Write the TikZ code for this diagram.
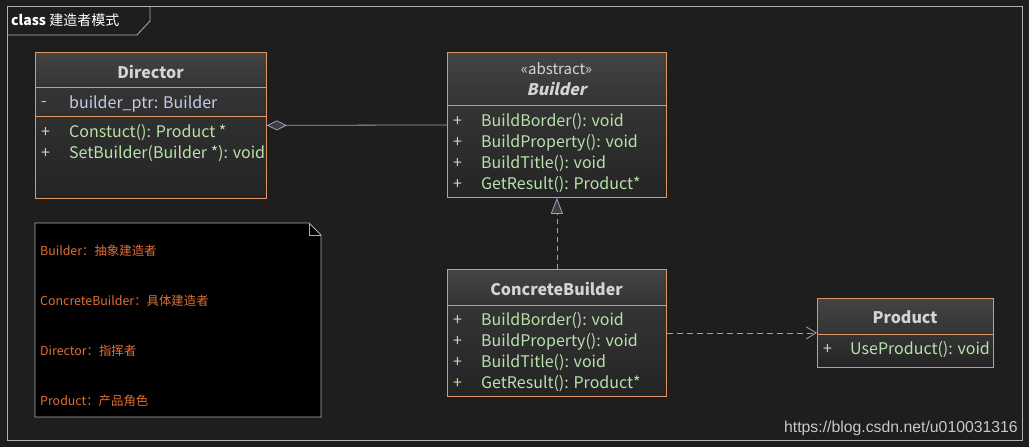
\documentclass[tikz,border=0pt]{standalone}
\usepackage{fontspec}
\setmainfont{Noto Sans CJK SC}
\newfontfamily\wmfont{Liberation Sans}
\newfontfamily\slfont[FakeSlant=0.22]{Noto Sans CJK SC}
\usetikzlibrary{arrows.meta}
\definecolor{bgc}{RGB}{30,30,30}
\definecolor{framec}{RGB}{175,175,175}
\definecolor{boxc}{RGB}{222,150,100}
\definecolor{headtop}{RGB}{68,68,68}
\definecolor{headbot}{RGB}{52,52,52}
\definecolor{bodytop}{RGB}{52,52,52}
\definecolor{bodybot}{RGB}{36,36,36}
\definecolor{titlec}{RGB}{212,212,212}
\definecolor{attrc}{RGB}{196,204,235}
\definecolor{methc}{RGB}{184,226,172}
\definecolor{connc}{RGB}{155,160,190}
\definecolor{diamc}{RGB}{60,62,70}
\definecolor{notetxt}{RGB}{226,110,50}
\definecolor{wmc}{RGB}{200,200,200}
\tikzset{
  boxborder/.style={draw=boxc, line width=0.8pt, inner sep=0pt},
  headfill/.style={top color=headtop, bottom color=headbot},
  bodyfill/.style={top color=bodytop, bottom color=bodybot},
  sep/.style={draw=boxc, line width=0.8pt},
  ctitle/.style={text=titlec, font=\fontsize{16}{18}\selectfont\bfseries, inner sep=0pt},
  cstereo/.style={text=titlec, font=\fontsize{15}{17}\selectfont, inner sep=0pt},
  vis/.style={anchor=west, inner sep=0pt, yshift=-1.5pt, font=\fontsize{16}{18}\selectfont},
  attr/.style={vis, text=attrc},
  meth/.style={vis, text=methc},
  conn/.style={draw=connc, line width=0.8pt},
  notetext/.style={anchor=west, inner sep=0pt, yshift=-1pt, text=notetxt, font=\fontsize{12.4}{14}\selectfont},
}
\begin{document}
\begin{tikzpicture}[x=1pt,y=-1pt]
\fill[bgc] (0,0) rectangle (1029,447);
\useasboundingbox (0,0) rectangle (1029,447);
% outer frame and tab
\draw[framec, line width=0.8pt] (7,6) rectangle (1022,440);
\draw[framec, line width=0.8pt] (7,35) -- (137,35) -- (150,21) -- (150,6);
\node[anchor=west, inner sep=0pt, text=white, font=\fontsize{14}{16}\selectfont] (frametitle) at (11,20) {\textbf{class} 建造者模式};

% ---------- Director ----------
\path[headfill] (35,52) rectangle (266,87);
\path[bodyfill] (35,87) rectangle (266,198);
\draw[sep] (35,87) -- (266,87);
\draw[sep] (35,116) -- (266,116);
\node[boxborder, anchor=north west, minimum width=231pt, minimum height=146pt] (director) at (35,52) {};
\node[ctitle] (dirname) at (150.5,72) {Director};
\node[attr] (dira0) at (41,102) {-};
\node[attr] (dira1) at (69,102) {builder\_ptr: Builder};
\node[meth] (dirm0) at (41,131) {+};
\node[meth] (dirm1) at (69,131) {Constuct(): Product *};
\node[meth] (dirm2) at (41,152) {+};
\node[meth] (dirm3) at (69,152) {SetBuilder(Builder *): void};

% ---------- Builder ----------
\path[headfill] (447,52) rectangle (666,105);
\path[bodyfill] (447,105) rectangle (666,197);
\draw[sep] (447,105) -- (666,105);
\node[boxborder, anchor=north west, minimum width=219pt, minimum height=145pt] (builder) at (447,52) {};
\node[cstereo] (bstereo) at (556.5,69) {«abstract»};
\node[ctitle, font=\slfont\fontsize{16}{18}\selectfont\bfseries] (bname) at (556.5,89) {Builder};
\node[meth] (bm0) at (453,120) {+};
\node[meth] (bm1) at (481,120) {BuildBorder(): void};
\node[meth] (bm2) at (453,141) {+};
\node[meth] (bm3) at (481,141) {BuildProperty(): void};
\node[meth] (bm4) at (453,162) {+};
\node[meth] (bm5) at (481,162) {BuildTitle(): void};
\node[meth] (bm6) at (453,183) {+};
\node[meth] (bm7) at (481,183) {GetResult(): Product*};

% ---------- ConcreteBuilder ----------
\path[headfill] (447,269) rectangle (666,305);
\path[bodyfill] (447,305) rectangle (666,396);
\draw[sep] (447,305) -- (666,305);
\node[boxborder, anchor=north west, minimum width=219pt, minimum height=127pt] (concrete) at (447,269) {};
\node[ctitle] (cname) at (556.5,289) {ConcreteBuilder};
\node[meth] (cm0) at (453,319) {+};
\node[meth] (cm1) at (481,319) {BuildBorder(): void};
\node[meth] (cm2) at (453,340) {+};
\node[meth] (cm3) at (481,340) {BuildProperty(): void};
\node[meth] (cm4) at (453,361) {+};
\node[meth] (cm5) at (481,361) {BuildTitle(): void};
\node[meth] (cm6) at (453,382) {+};
\node[meth] (cm7) at (481,382) {GetResult(): Product*};

% ---------- Product ----------
\path[headfill] (817,298) rectangle (993,334);
\path[bodyfill] (817,334) rectangle (993,367);
\draw[sep] (817,334) -- (993,334);
\node[boxborder, anchor=north west, minimum width=176pt, minimum height=69pt] (product) at (817,298) {};
\node[ctitle] (pname) at (905,317) {Product};
\node[meth] (pm0) at (823,348) {+};
\node[meth] (pm1) at (850,348) {UseProduct(): void};

% ---------- Note ----------
\draw[framec, line width=0.8pt, fill=black] (35,223) -- (309,223) -- (321,235) -- (321,417) -- (35,417) -- cycle;
\draw[framec, line width=0.8pt] (309,223) -- (309,235) -- (321,235);
\node[notetext] (n1) at (40,250) {Builder：抽象建造者};
\node[notetext] (n2) at (40,300) {ConcreteBuilder：具体建造者};
\node[notetext] (n3) at (40,350) {Director：指挥者};
\node[notetext] (n4) at (40,400) {Product：产品角色};

% ---------- Connectors ----------
\draw[conn, {Diamond[length=20pt, width=10pt, fill=diamc, line width=0.8pt]}-] (director.east) -- (builder.west);
\draw[conn, dashed, dash pattern=on 5pt off 4pt, -{Triangle[length=16pt, width=12pt, fill=diamc, line width=0.8pt]}] (concrete.north) -- (builder.south);
\draw[conn, dashed, dash pattern=on 6pt off 4pt, -{Straight Barb[length=10pt, width=12pt, line width=0.8pt]}] (concrete.east) -- (product.west);

% watermark
\node[anchor=east, inner sep=0pt, text=wmc, font=\wmfont\fontsize{15.8}{18}\selectfont] (wm) at (1018,428) {https://blog.csdn.net/u010031316};
\end{tikzpicture}
\end{document}
